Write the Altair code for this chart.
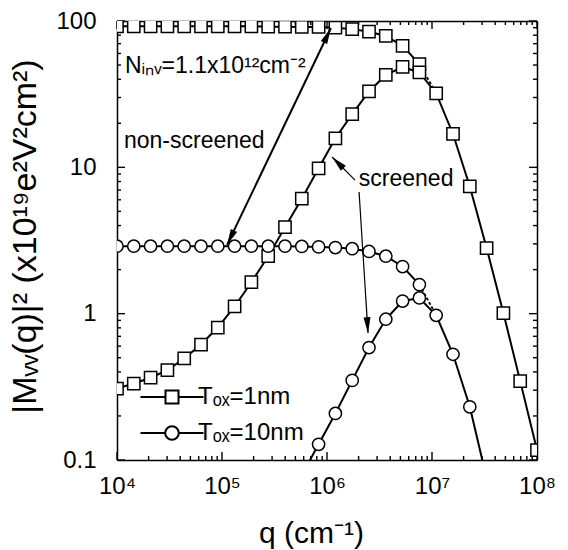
import altair as alt
import pandas as pd

FONT = "Liberation Sans"
W, H = 420, 439

# ---- data ----
q = [1.0e4, 1.445e4, 2.089e4, 3.020e4, 4.365e4, 6.310e4, 9.120e4, 1.318e5, 1.905e5,
     2.754e5, 3.981e5, 5.754e5, 8.318e5, 1.202e6, 1.738e6, 2.512e6, 3.631e6, 5.248e6,
     7.586e6, 1.096e7, 1.585e7, 2.291e7, 3.311e7, 4.786e7, 6.918e7, 1.0e8]

# non-screened, Tox = 1 nm (q index 0..18)
ns_1nm = [92, 92, 92, 92, 92, 92, 92, 92, 92, 91.5, 91.5, 91, 91, 90, 88, 84.5, 79, 67.6, 50.7]
# screened, Tox = 1 nm (q index 0..25)
s_1nm = [0.308, 0.333, 0.365, 0.411, 0.494, 0.615, 0.804, 1.12, 1.64, 2.47, 3.90, 6.1, 9.85,
         15.8, 23.1, 33.0, 42.8, 48.5, 44.5, 32.0, 16.9, 7.4, 2.81, 1.01, 0.346, 0.117]
# non-screened, Tox = 10 nm (q index 0..18)
ns_10nm = [2.89, 2.89, 2.89, 2.89, 2.89, 2.89, 2.89, 2.89, 2.89, 2.89, 2.89, 2.88, 2.86,
           2.83, 2.78, 2.66, 2.47, 2.10, 1.58]
# screened, Tox = 10 nm (q index 11..22)
s_10nm_start = 11
s_10nm = [0.079, 0.128, 0.208, 0.350, 0.587, 0.916, 1.22, 1.28, 0.975, 0.528, 0.231, 0.075]

# annotations
ann_text = ["Nᵢₙᵥ=1.1x10¹²cm⁻²", "non-screened", "screened"]
ann_q = [1.19e4, 1.165e4, 2.01e6]
ann_v = [44.0, 13.6, 7.5]

arrow_q1 = [1.117e5, 1.85e6, 2.02e6]
arrow_v1 = [2.95, 8.18, 6.78]
arrow_q2 = [1.09e6, 1.117e6, 2.46e6]
arrow_v2 = [89.6, 11.76, 0.736]
arrow_w = [2.0, 1.2, 1.2]

head_q = [1.117e5, 1.09e6, 1.117e6, 2.46e6]
head_v = [2.95, 89.6, 11.76, 0.736]
head_angle = [205.6, 25.6, 315, 176.3]

# ---- axis tick values ----
x_lo, x_hi = 1e4, 1e8
y_lo, y_hi = 0.1, 100
x_major = [10000, 100000, 1000000, 10000000, 100000000]
x_major_labels = ["10⁴", "10⁵", "10⁶", "10⁷", "10⁸"]
x_minor = [m * 10 ** e for e in range(4, 8) for m in range(2, 10)]
y_major = [0.1, 1, 10, 100]
y_major_labels = ["0.1", "1", "10", "100"]
y_minor = [round(m * 10.0 ** e, 6) for e in range(-1, 2) for m in range(2, 10)]

# ---- tables ----
rows = []
def add(series, tox, ks, vals):
    for k, v in zip(ks, vals):
        rows.append({"series": series, "tox": tox, "k": k, "q": q[k], "v": v})

add("ns1", "1nm", range(len(ns_1nm)), ns_1nm)
add("s1", "1nm", range(len(s_1nm)), s_1nm)
add("ns10", "10nm", range(len(ns_10nm)), ns_10nm)
add("s10", "10nm", range(s_10nm_start, s_10nm_start + len(s_10nm)), s_10nm)
df = pd.DataFrame(rows)

bridge = pd.DataFrame([
    {"series": "b1", "k": 18, "q": q[18], "v": ns_1nm[18]},
    {"series": "b1", "k": 19, "q": q[19], "v": s_1nm[19]},
    {"series": "b10", "k": 18, "q": q[18], "v": ns_10nm[18]},
    {"series": "b10", "k": 19, "q": q[19], "v": s_10nm[19 - s_10nm_start]},
])

ann = pd.DataFrame({"text": ann_text, "q": ann_q, "v": ann_v})
arrows = pd.DataFrame({"q": arrow_q1, "v": arrow_v1, "q2": arrow_q2, "v2": arrow_v2, "w": arrow_w})
heads = pd.DataFrame({"q": head_q, "v": head_v, "angle": head_angle})

# inward tick marks (lengths 8 px for decades, 4 px for the others), expressed through the log scales
px_x = W / 4.0   # pixels per decade along x
px_y = H / 3.0   # pixels per decade along y
tick_rows = []
for vals, L in ((x_major, 8), (x_minor, 4)):
    fy = 10 ** (L / px_y)
    for t in vals:
        tick_rows.append({"q": t, "q2": t, "v": y_lo, "v2": y_lo * fy})
        tick_rows.append({"q": t, "q2": t, "v": y_hi, "v2": y_hi / fy})
for vals, L in ((y_major, 8), (y_minor, 4)):
    fx = 10 ** (L / px_x)
    for t in vals:
        tick_rows.append({"q": x_lo, "q2": x_lo * fx, "v": t, "v2": t})
        tick_rows.append({"q": x_hi, "q2": x_hi / fx, "v": t, "v2": t})
ticks_df = pd.DataFrame(tick_rows)


def lab_expr(vals, labs):
    return " : ".join(f"datum.value == {v} ? '{l}'" for v, l in zip(vals, labs)) + " : ''"


common = dict(grid=False, domainColor="black", domainWidth=1.5, labelFont=FONT, labelColor="black",
              labelOverlap=False, labelFlush=False, titleFont=FONT, titleColor="black",
              titleFontWeight="normal")

x_label_axis = alt.Axis(orient="bottom", values=x_major, labelExpr=lab_expr(x_major, x_major_labels),
                        ticks=False, labelFontSize=24, labelPadding=14,
                        title="q (cm⁻¹)", titleFontSize=30, titleX=194, titleY=82,
                        titleBaseline="alphabetic", titleAlign="center", **common)
y_label_axis = alt.Axis(orient="left", values=y_major, labelExpr=lab_expr(y_major, y_major_labels),
                        ticks=False, labelFontSize=24, labelPadding=21,
                        title="|Mᵥᵥ(q)|² (x10¹⁹e²V²cm²)", titleFontSize=34, titleX=-92, titleY=215,
                        titleAngle=-90, titleBaseline="middle", titleAlign="center", **common)
x_top_axis = alt.Axis(orient="top", values=x_major, labels=False, ticks=False, title=None, **common)
y_right_axis = alt.Axis(orient="right", values=y_major, labels=False, ticks=False, title=None, **common)

xs = alt.Scale(type="log", domain=[x_lo, x_hi], nice=False)
ys = alt.Scale(type="log", domain=[y_lo, y_hi], nice=False)

lines = alt.Chart(df).mark_line(color="black", strokeWidth=2, clip=True).encode(
    x=alt.X("q:Q", scale=xs, axis=x_label_axis),
    y=alt.Y("v:Q", scale=ys, axis=y_label_axis),
    detail="series:N",
    order="k:Q",
)

bridge_lines = alt.Chart(bridge).mark_line(color="black", strokeWidth=1.8, strokeDash=[3, 2], clip=True).encode(
    x=alt.X("q:Q", scale=xs, axis=None),
    y=alt.Y("v:Q", scale=ys, axis=None),
    detail="series:N",
    order="k:Q",
)

points = alt.Chart(df).mark_point(filled=True, fill="white", stroke="black", strokeWidth=1.5,
                                  opacity=1, size=150, clip=True).encode(
    x=alt.X("q:Q", scale=xs, axis=x_top_axis),
    y=alt.Y("v:Q", scale=ys, axis=y_right_axis),
    shape=alt.Shape("tox:N", scale=alt.Scale(domain=["1nm", "10nm"], range=["square", "circle"]), legend=None),
)

PATH_SQ = "M-4.85,0L-1,0M1,0L4.85,0M-1,-1L1,-1L1,1L-1,1Z"
PATH_CI = "M-4.85,0L-1.05,0M1.05,0L4.85,0M-1.05,0A1.05,1.05,0,1,0,1.05,0A1.05,1.05,0,1,0,-1.05,0Z"

legend_layer = alt.Chart(df).transform_filter("false").mark_point(
    filled=False, color="black", strokeWidth=2, size=169, opacity=1).encode(
    x=alt.X("q:Q", scale=xs, axis=None),
    y=alt.Y("v:Q", scale=ys, axis=None),
    shape=alt.Shape("tox:N", scale=alt.Scale(domain=["1nm", "10nm"], range=[PATH_SQ, PATH_CI]),
                    legend=alt.Legend(orient="none", legendX=43, legendY=364, title=None,
                                      padding=0, symbolSize=169, symbolStrokeWidth=2,
                                      symbolStrokeColor="black", symbolOpacity=1,
                                      labelExpr="datum.value == '1nm' ? 'Tₒₓ=1nm' : 'Tₒₓ=10nm'",
                                      labelFont=FONT, labelFontSize=24, labelColor="black",
                                      labelOffset=14, rowPadding=12)),
)

texts = alt.Chart(ann).mark_text(align="left", baseline="alphabetic", font=FONT, fontSize=23,
                                 color="black").encode(
    x=alt.X("q:Q", scale=xs, axis=None),
    y=alt.Y("v:Q", scale=ys, axis=None),
    text="text:N",
)

arrow_lines = alt.Chart(arrows).mark_rule(color="black").encode(
    x=alt.X("q:Q", scale=xs, axis=None),
    y=alt.Y("v:Q", scale=ys, axis=None),
    x2="q2:Q",
    y2="v2:Q",
    strokeWidth=alt.StrokeWidth("w:Q", scale=None),
)

arrow_heads = alt.Chart(heads).mark_point(shape="M0,0L0.35,1.6L-0.35,1.6Z", filled=True,
                                          color="black", opacity=1, size=400).encode(
    x=alt.X("q:Q", scale=xs, axis=None),
    y=alt.Y("v:Q", scale=ys, axis=None),
    angle=alt.Angle("angle:Q", scale=None),
)

tick_marks = alt.Chart(ticks_df).mark_rule(color="black", strokeWidth=1.4).encode(
    x=alt.X("q:Q", scale=xs, axis=None),
    y=alt.Y("v:Q", scale=ys, axis=None),
    x2="q2:Q",
    y2="v2:Q",
)

chart = alt.layer(tick_marks, lines, bridge_lines, points, legend_layer, texts, arrow_lines,
                  arrow_heads).resolve_scale(
    shape="independent"
).resolve_axis(x="independent", y="independent").properties(
    width=W, height=H,
    autosize=alt.AutoSizeParams(type="none"),
    padding={"left": 117, "top": 21, "right": 31, "bottom": 90},
    background="white",
).configure_view(stroke=None)

chart.save("out.html", embed_options={"renderer": "svg", "actions": False})
